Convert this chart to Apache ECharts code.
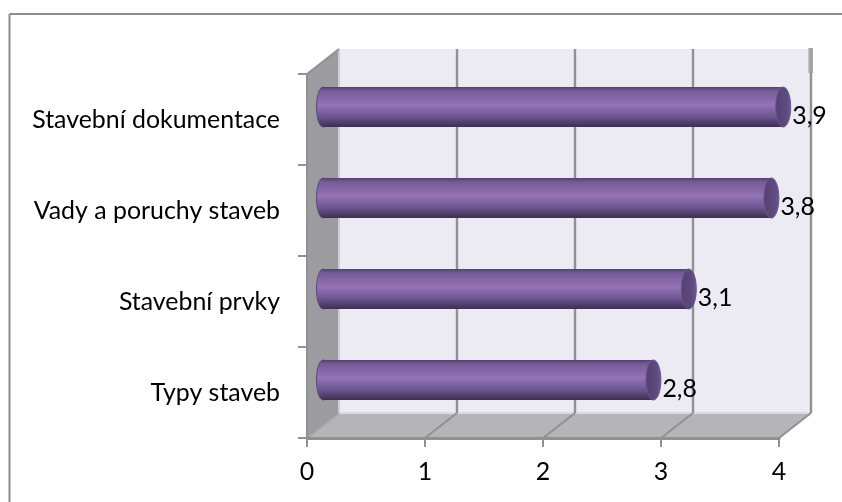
<!DOCTYPE html>
<html>
<head>
<meta charset="utf-8">
<style>html,body{margin:0;padding:0;background:#fff}#c{width:842px;height:502px}</style>
<script src="https://cdn.jsdelivr.net/npm/echarts@6/dist/echarts.min.js"></script>
</head>
<body>
<div id="c"></div>
<script>
const categories = ['Typy staveb', 'Stavební prvky', 'Vady a poruchy staveb', 'Stavební dokumentace'];
const values = [2.8, 3.1, 3.8, 3.9];
const xTicks = [0, 1, 2, 3, 4];

const DX = 32, DY = -25, CAP = 7.5, BAR_H = 40;
const GRID = '#919193', FONT = 'Lato', FS = 24.9;
const chart = echarts.init(document.getElementById('c'), null, {renderer: 'canvas'});

function renderWalls(params, api) {
  const cs = params.coordSys;
  const L = cs.x, R = cs.x + cs.width, T = cs.y, B = cs.y + cs.height;
  const ln = (x1, y1, x2, y2, w, c) => ({type: 'line', shape: {x1, y1, x2, y2}, style: {stroke: c || GRID, lineWidth: w || 2}, silent: true});
  const kids = [
    {type: 'rect', shape: {x: L + DX, y: T + DY, width: cs.width, height: cs.height}, style: {fill: '#ECEAF2'}},
    {type: 'polygon', shape: {points: [[L, T], [L + DX, T + DY], [L + DX, B + DY], [L, B]]}, style: {fill: '#9C9BA0'}},
    {type: 'polygon', shape: {points: [[L, B], [L + DX, B + DY], [R + DX, B + DY], [R, B]]}, style: {fill: '#B5B4B9'}},
    ln(L + DX, T + DY, L + DX, B + DY, 2, '#CFCED3'),
    ln(L + DX, B + DY, R + DX, B + DY, 2, '#DCDBE0'),
    ln(L, T, L + DX, T + DY, 2),
    ln(L, B, L + DX, B + DY, 2, '#A6A6A8')
  ];
  xTicks.forEach(t => {
    if (t === 0) return;
    const x = api.coord([t, 0])[0];
    kids.push(ln(x + DX, T + DY, x + DX, B + DY, 2.4));
    kids.push(ln(x, B, x + DX, B + DY, 2));
  });
  kids.push({type: 'rect', shape: {x: R + DX - 2.5, y: T + DY - 1, width: 4.5, height: 25}, style: {fill: '#A6A6A8'}});
  return {type: 'group', children: kids};
}

function renderBar(params, api) {
  const v = api.value(0), i = api.value(1);
  const s = api.coord([0, i]), e = api.coord([v, i]);
  const x0 = s[0] + DX / 2, x1 = e[0] + DX / 2, cy = s[1] + DY / 2;
  const grad = new echarts.graphic.LinearGradient(0, 0, 0, 1, [
    {offset: 0, color: '#55406F'}, {offset: 0.1, color: '#755B98'},
    {offset: 0.45, color: '#9473B7'}, {offset: 0.75, color: '#6B548D'},
    {offset: 0.93, color: '#493860'}, {offset: 1, color: '#3E2E54'}
  ]);
  const capGrad = new echarts.graphic.LinearGradient(0, 0, 1, 0, [
    {offset: 0, color: '#54416F'}, {offset: 0.7, color: '#5E4A80'}, {offset: 1, color: '#6E5792'}
  ]);
  return {type: 'group', children: [
    {type: 'ellipse', shape: {cx: x0, cy, rx: CAP - 1, ry: BAR_H / 2}, style: {fill: grad, stroke: '#5C4878', lineWidth: 1}},
    {type: 'rect', shape: {x: x0, y: cy - BAR_H / 2, width: x1 - x0, height: BAR_H}, style: {fill: grad}},
    {type: 'ellipse', shape: {cx: x1, cy, rx: CAP, ry: BAR_H / 2}, style: {fill: capGrad, stroke: '#6A5590', lineWidth: 1}},
    {type: 'text', style: {x: x1 + CAP + 1.5, y: cy + 9, text: String(v).replace('.', ','), fill: '#000', font: FS + 'px ' + FONT, textAlign: 'left', textVerticalAlign: 'middle'}}
  ]};
}

chart.setOption({
  animation: false,
  backgroundColor: '#fff',
  graphic: [
    {type: 'line', shape: {x1: 9.5, y1: 14, x2: 842, y2: 14}, style: {stroke: '#8C8C8C', lineWidth: 2}},
    {type: 'line', shape: {x1: 9.5, y1: 14, x2: 9.5, y2: 502}, style: {stroke: '#8C8C8C', lineWidth: 2}}
  ],
  grid: {left: 307, right: 63, top: 74, bottom: 64},
  xAxis: {
    type: 'value', min: 0, max: 4, interval: 1, z: 2,
    axisLine: {show: true, lineStyle: {color: GRID, width: 3}},
    axisTick: {show: true, length: 9, lineStyle: {color: GRID, width: 2}},
    axisLabel: {color: '#000', fontFamily: FONT, fontSize: FS, margin: 21},
    splitLine: {show: false}
  },
  yAxis: {
    type: 'category', data: categories, z: 2,
    axisLine: {show: true, lineStyle: {color: GRID, width: 2}},
    axisTick: {show: true, length: 9, alignWithLabel: false, lineStyle: {color: GRID, width: 2}},
    axisLabel: {color: '#000', fontFamily: FONT, fontSize: FS, margin: 27, padding: [8, 0, 0, 0]}
  },
  series: [
    {type: 'custom', z: 1, silent: true, clip: false, renderItem: renderWalls, data: [0], encode: {x: 0}},
    {type: 'custom', z: 3, silent: true, clip: false, renderItem: renderBar,
     data: values.map((v, i) => [v, i]), encode: {x: 0, y: 1}}
  ]
});
</script>
</body>
</html>
